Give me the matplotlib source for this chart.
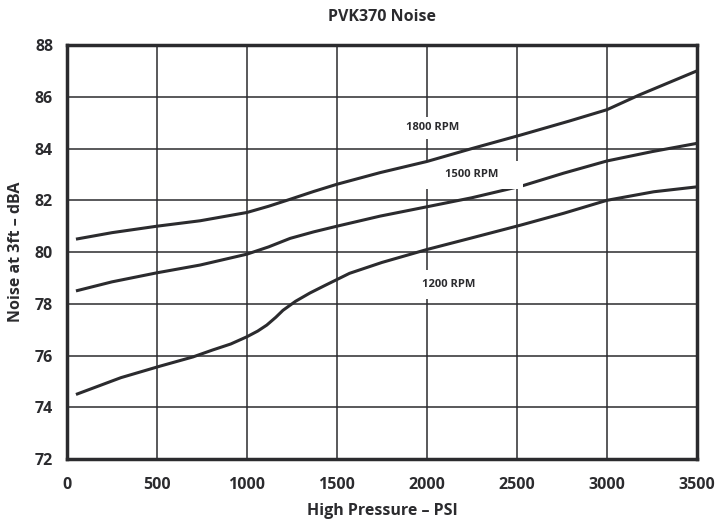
import matplotlib
matplotlib.use("Agg")
import matplotlib.pyplot as plt
from matplotlib.patches import Rectangle

plt.rcParams['font.family'] = ['Open Sans', 'DejaVu Sans']

x_1800 = [50, 250, 500, 740, 1000, 1120, 1240, 1370, 1500, 1740, 2000, 2250, 2520, 2790, 3000, 3180, 3500]
y_1800 = [80.5, 80.75, 81.0, 81.21, 81.53, 81.77, 82.04, 82.34, 82.62, 83.07, 83.5, 84.0, 84.52, 85.06, 85.5, 86.07, 87.0]
x_1500 = [50, 250, 500, 740, 1000, 1120, 1240, 1370, 1500, 1740, 2000, 2250, 2530, 2760, 3000, 3250, 3500]
y_1500 = [78.5, 78.85, 79.2, 79.5, 79.92, 80.2, 80.53, 80.78, 81.0, 81.39, 81.75, 82.1, 82.56, 83.05, 83.52, 83.88, 84.2]
x_1200 = [50, 300, 520, 700, 810, 910, 1000, 1060, 1110, 1160, 1200, 1270, 1350, 1430, 1500, 1570, 1750, 2000, 2250, 2520, 2760, 3000, 3260, 3500]
y_1200 = [74.5, 75.15, 75.6, 75.95, 76.22, 76.45, 76.73, 76.95, 77.18, 77.48, 77.75, 78.1, 78.42, 78.7, 78.94, 79.18, 79.6, 80.1, 80.55, 81.04, 81.5, 82.0, 82.33, 82.52]

labels = ["1800 RPM", "1500 RPM", "1200 RPM"]
label_x = [2030, 2250, 2120]
label_y = [84.8, 82.98, 78.75]

xticks = [0, 500, 1000, 1500, 2000, 2500, 3000, 3500]
yticks = [72, 74, 76, 78, 80, 82, 84, 86, 88]

fig = plt.figure(figsize=(7.2, 5.23), dpi=100)
ax = fig.add_axes([0.093, 0.122, 0.875, 0.792])
dark = '#2b2b2e'

series = [(x_1800, y_1800, 4.5), (x_1500, y_1500, 3), (x_1200, y_1200, 3)]
for xs, ys, z in series:
    ax.plot(xs, ys, color=dark, lw=2.2, solid_capstyle='butt', solid_joinstyle='round', zorder=z)

# label boxes (white, breaking grid lines and the 1500 curve), sizes in data units
box_w = [290, 570, 300]
box_h = [0.85, 1.05, 1.15]
box_dx = [0, 0, 0]
for t, lx, ly, bw, bh, dx in zip(labels, label_x, label_y, box_w, box_h, box_dx):
    ax.add_patch(Rectangle((lx + dx - bw / 2, ly - bh / 2), bw, bh, facecolor='white',
                           edgecolor='none', zorder=3.5))
    ax.text(lx, ly, t, ha='center', va='center', fontsize=8, fontweight='bold',
            color=dark, zorder=4)

ax.set_xlim(0, 3500)
ax.set_ylim(72, 88)
ax.set_xticks(xticks)
ax.set_yticks(yticks)
ax.grid(True, color=dark, lw=1.1)
ax.set_axisbelow(True)
ax.tick_params(axis='x', length=0, labelsize=11.5, pad=13, colors=dark)
ax.tick_params(axis='y', length=0, labelsize=11.5, pad=10, colors=dark)
for lab in ax.get_xticklabels() + ax.get_yticklabels():
    lab.set_fontweight('bold')
for s in ax.spines.values():
    s.set_linewidth(2.5)
    s.set_color(dark)
    s.set_zorder(5)

ax.set_xlabel('High Pressure – PSI', fontsize=11.5, fontweight='bold', color=dark, labelpad=7)
ax.set_ylabel('Noise at 3ft – dBA', fontsize=11.5, fontweight='bold', color=dark, labelpad=8)
ax.set_title('PVK370 Noise', fontsize=11.5, fontweight='bold', color=dark, pad=17)

fig.savefig('out.png', dpi=100)
